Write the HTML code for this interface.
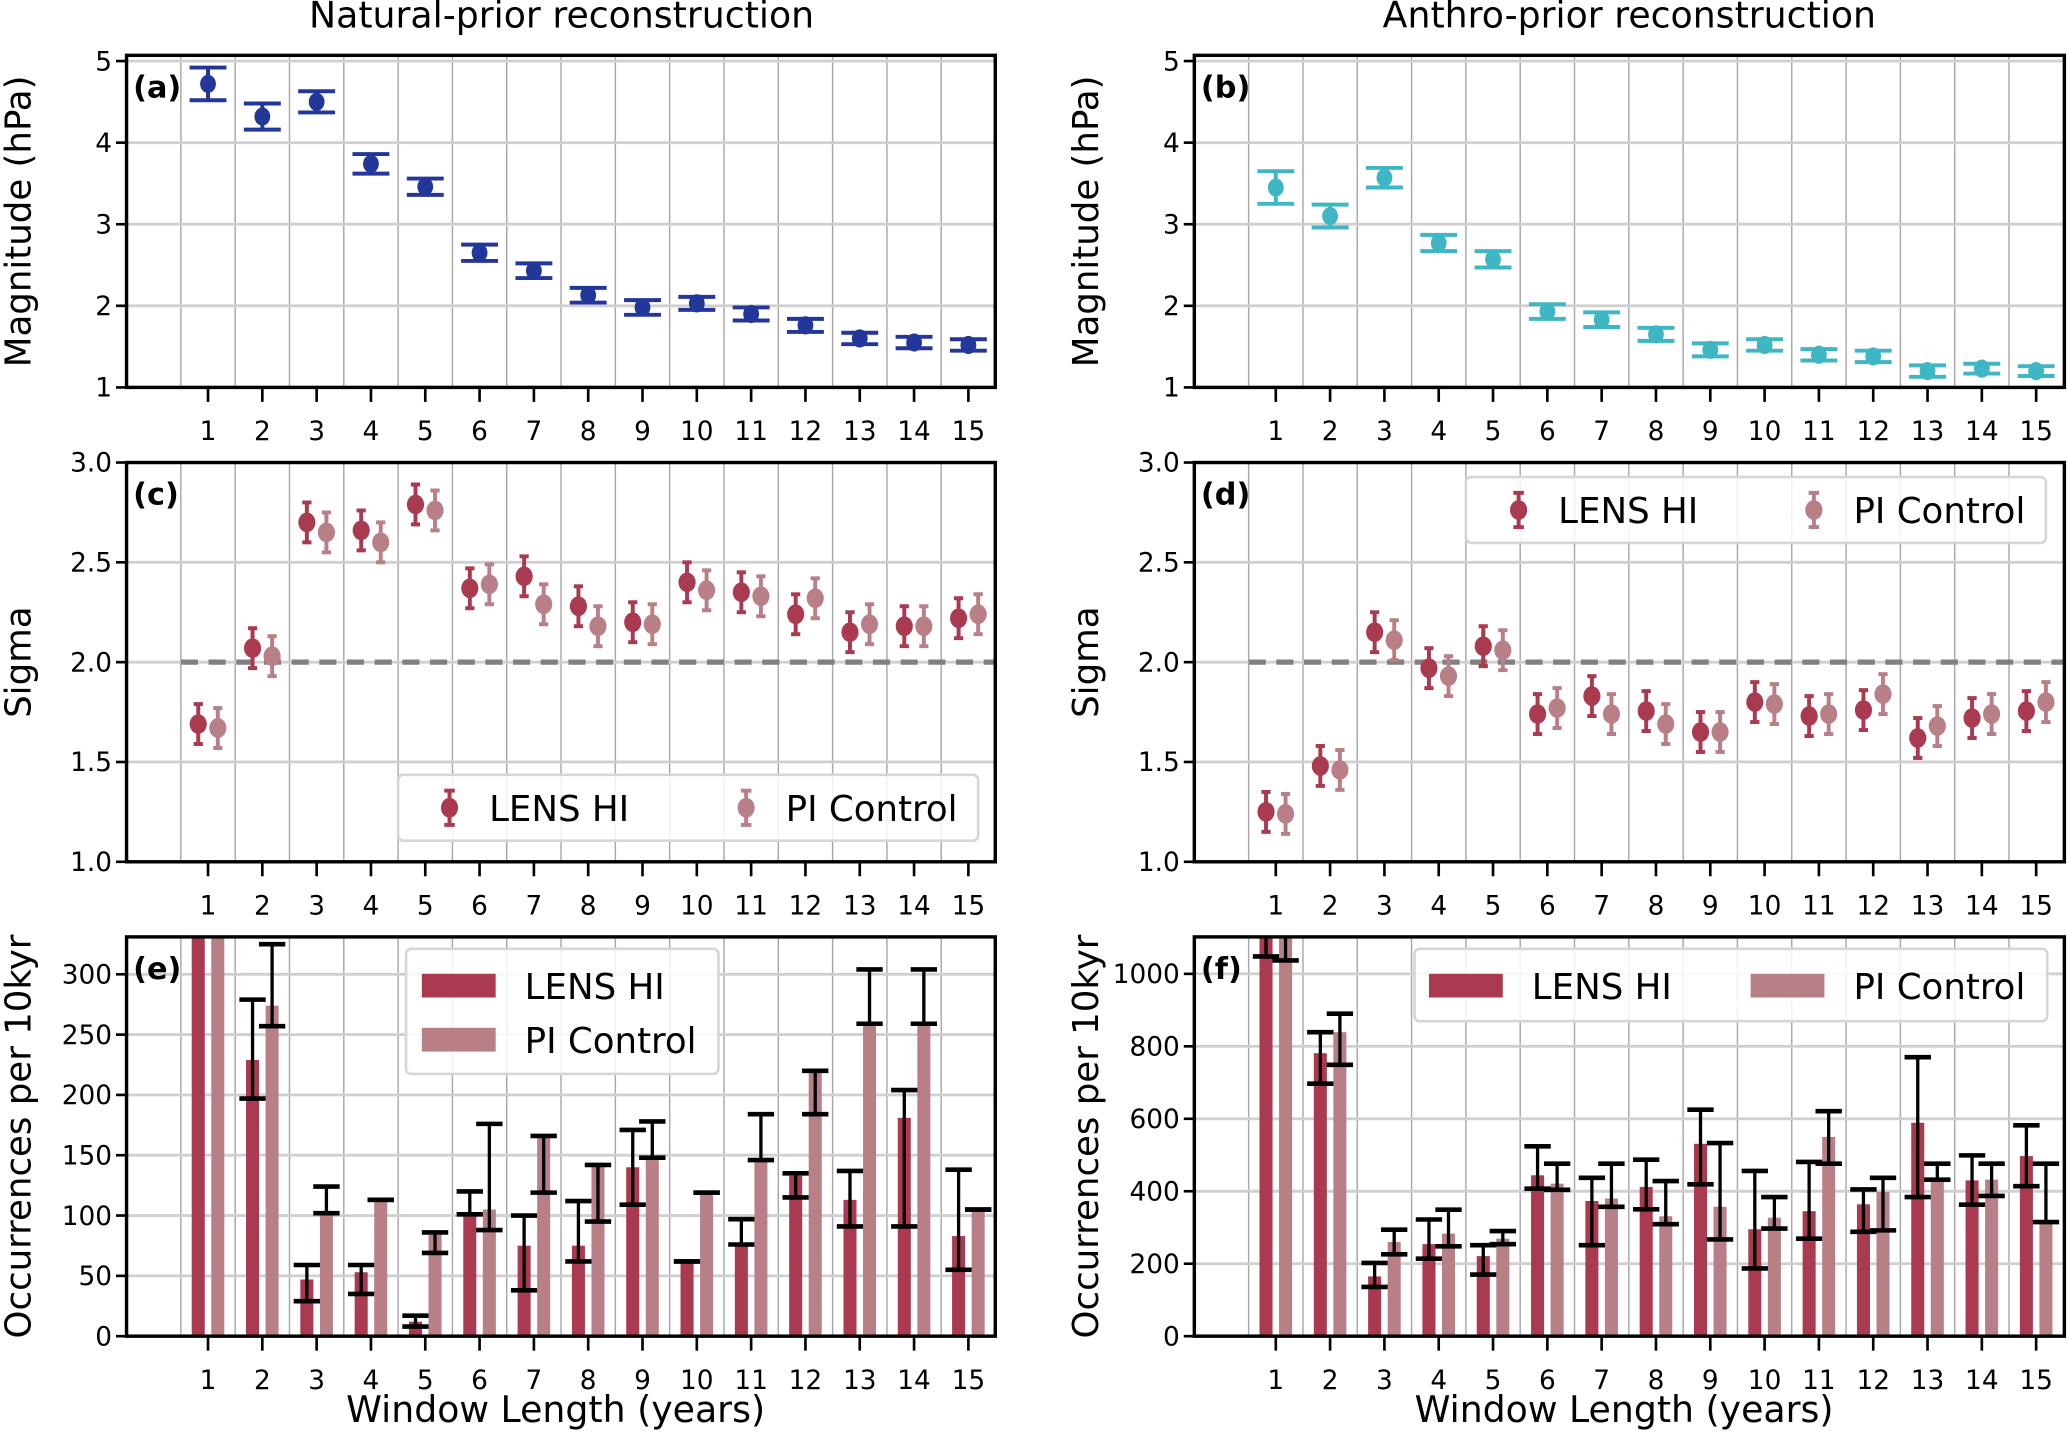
<!DOCTYPE html>
<html><head><meta charset="utf-8">
<style>
html,body{margin:0;padding:0;background:#fff;}
svg{display:block;font-family:"DejaVu Sans","Liberation Sans",sans-serif;}
</style></head>
<body>
<svg id="fig" width="2067" height="1435" viewBox="0 0 1568 1089" preserveAspectRatio="none" xmlns="http://www.w3.org/2000/svg">
<text x="426" y="21" font-size="27.5" text-anchor="middle">Natural-prior reconstruction</text>
<text x="1236" y="21" font-size="27.5" text-anchor="middle">Anthro-prior reconstruction</text>
</svg>
<script>
// ---- data ----
const categories = [1,2,3,4,5,6,7,8,9,10,11,12,13,14,15];
const magNat = [4.72,4.32,4.5,3.74,3.46,2.65,2.43,2.13,1.98,2.03,1.9,1.76,1.6,1.55,1.52];
const magNatErr = [0.2,0.16,0.13,0.12,0.1,0.1,0.09,0.09,0.09,0.08,0.08,0.08,0.07,0.07,0.07];
const magAnt = [3.45,3.1,3.57,2.77,2.57,1.93,1.83,1.65,1.46,1.52,1.4,1.38,1.2,1.23,1.2];
const magAntErr = [0.2,0.14,0.12,0.1,0.1,0.09,0.09,0.08,0.08,0.07,0.07,0.07,0.07,0.06,0.06];
const sigNatLens = [1.69,2.07,2.70,2.66,2.79,2.37,2.43,2.28,2.2,2.4,2.35,2.24,2.15,2.18,2.22];
const sigNatPi = [1.67,2.03,2.65,2.6,2.76,2.39,2.29,2.18,2.19,2.36,2.33,2.32,2.19,2.18,2.24];
const sigAntLens = [1.25,1.48,2.15,1.97,2.08,1.74,1.83,1.755,1.65,1.8,1.73,1.76,1.62,1.72,1.755];
const sigAntPi = [1.24,1.46,2.11,1.93,2.06,1.77,1.74,1.69,1.65,1.79,1.74,1.84,1.68,1.74,1.8];
const sigErr = 0.1;
const occNatLens = [400,229,47,53,12,100,75,75,140,62,75,133,113,181,83];
const occNatLensLo = [345,197,29,35,8,101,38,62,109,62,76,115,91,91,55];
const occNatLensHi = [440,279,59,59,17,120,100,112,171,62,97,135,137,204,138];
const occNatPi = [400,274,102,113,84,105,166,142,146,120,146,220,259,259,105];
const occNatPiLo = [345,257,102,113,69,88,119,95,148,119,146,184,259,259,105];
const occNatPiHi = [440,325,124,113,86,176,166,142,178,119,184,220,304,304,105];
const occAntLens = [1150,781,165,254,221,444,373,412,531,295,345,364,589,430,497];
const occAntLensLo = [1048,697,136,214,170,407,251,350,419,187,269,288,384,363,414];
const occAntLensHi = [1250,839,202,322,251,524,437,487,625,456,481,405,770,499,582];
const occAntPi = [1140,839,260,283,269,421,380,331,357,327,550,398,435,432,315];
const occAntPiLo = [1037,749,226,248,254,404,357,309,267,297,476,292,432,387,315];
const occAntPiHi = [1240,890,294,349,290,476,476,428,533,384,621,437,476,476,476];
const magTicks = [1,2,3,4,5];
const sigTicks = [1.0,1.5,2.0,2.5,3.0];
const occNatTicks = [0,50,100,150,200,250,300];
const occAntTicks = [0,200,400,600,800,1000];

// ---- drawing ----
const NS = "http://www.w3.org/2000/svg";
const svg = document.getElementById('fig');
const C_NAVY = "#23379a", C_TEAL = "#3fb6c4", C_LENS = "#a93a4f", C_PI = "#b88086";
function mk(tag, attrs, parent) {
  const e = document.createElementNS(NS, tag);
  for (const k in attrs) e.setAttribute(k, attrs[k]);
  (parent || svg).appendChild(e);
  return e;
}
function panel(name, L, R, T, B, ymin, ymax, ticks, fmt, letter, ylabel, xlabel) {
  const g = mk('g', {});
  
  
  const sx = v => L + (v + 0.5) * 41.2;
  const sy = v => B - (v - ymin) / (ymax - ymin) * (B - T);
  const clip = mk('clipPath', {id: 'clip-' + name}, g);
  mk('rect', {x: L, y: T, width: R - L, height: B - T}, clip);
  const inner = mk('g', {'clip-path': 'url(#clip-' + name + ')'}, g);
  for (let i = 0; i < 15; i++) {
    const vx = sx(i + 0.5);
    const gl = mk('line', {x1: vx, x2: vx, y1: T, y2: B, stroke: '#a8a8a8', 'stroke-width': 1.1}, inner);
    
    
  }
  ticks.forEach(t => {
    const y = sy(t);
    const hl = mk('line', {x1: L, x2: R, y1: y, y2: y, stroke: '#d0d0d0', 'stroke-width': 2.2}, inner);
    
    
    const tk = mk('line', {x1: L - 8, x2: L, y1: y, y2: y, stroke: '#000', 'stroke-width': 2}, g);
    
    
    const tl = mk('text', {x: L - 11, y: y + 7, 'font-size': 20, 'text-anchor': 'end'}, g);
    tl.textContent = fmt(t);
    
    
  });
  categories.forEach(c => {
    const x = sx(c);
    const tk = mk('line', {x1: x, x2: x, y1: B, y2: B + 11, stroke: '#000', 'stroke-width': 2}, g);
    
    
    const tl = mk('text', {x: x, y: B + 40, 'font-size': 20, 'text-anchor': 'middle'}, g);
    tl.textContent = c;
    
    
  });
  const fr = mk('rect', {x: L, y: T, width: R - L, height: B - T, fill: 'none', stroke: '#000', 'stroke-width': 2.6}, g);
  
  
  const lt = mk('text', {x: L + 5, y: T + 32, 'font-size': 23, 'font-weight': 'bold'}, g);
  lt.textContent = letter;
  
  
  const yl = mk('text', {x: 0, y: 0, 'font-size': 27, 'text-anchor': 'middle', transform: 'translate(' + (L - 73) + ',' + ((T + B) / 2) + ') rotate(-90)'}, g);
  yl.textContent = ylabel;
  
  
  if (xlabel) {
    const xl = mk('text', {x: (L + R) / 2 - 4, y: B + 65, 'font-size': 27.5, 'text-anchor': 'middle'}, g);
    xl.textContent = xlabel;
    
    
  }
  return {g: inner, outer: g, sx, sy, T, B, L, R};
}
function errPoint(p, x, v, e, color, cap, r, lw) {
  const y1 = p.sy(v - e), y2 = p.sy(v + e), y = p.sy(v);
  const eg = mk('g', {}, p.g);
  
  
  mk('line', {x1: x, x2: x, y1: y1, y2: y2, stroke: color, 'stroke-width': lw}, eg);
  mk('line', {x1: x - cap, x2: x + cap, y1: y1, y2: y1, stroke: color, 'stroke-width': 3}, eg);
  mk('line', {x1: x - cap, x2: x + cap, y1: y2, y2: y2, stroke: color, 'stroke-width': 3}, eg);
  mk('ellipse', {cx: x, cy: y, rx: r, ry: r * 1.15, fill: color}, eg);
}
function bar(p, x, v, lo, hi, color) {
  const w = 0.24 * 41.2;
  const b = mk('rect', {x: x - w / 2, y: p.sy(v), width: w, height: p.B - p.sy(v), fill: color}, p.g);
  
  
  const eg = mk('g', {}, p.g);
  
  
  const ylo = p.sy(lo), yhi = p.sy(hi);
  mk('line', {x1: x, x2: x, y1: ylo, y2: yhi, stroke: '#000', 'stroke-width': 2.5}, eg);
  mk('line', {x1: x - 10, x2: x + 10, y1: ylo, y2: ylo, stroke: '#000', 'stroke-width': 3.5}, eg);
  mk('line', {x1: x - 10, x2: x + 10, y1: yhi, y2: yhi, stroke: '#000', 'stroke-width': 3.5}, eg);
}
function dashed(p) {
  const d = mk('line', {x1: p.sx(0.5), x2: p.sx(15.5), y1: p.sy(2), y2: p.sy(2), stroke: '#808080', 'stroke-width': 4, 'stroke-dasharray': '13,8'}, p.g);
  
  
}
function legendBox(x, y, w, h) {
  const lg = mk('g', {});
  
  
  mk('rect', {x, y, width: w, height: h, rx: 4, fill: 'rgba(255,255,255,0.85)', stroke: '#d6d6d6', 'stroke-width': 2}, lg);
  return lg;
}
function legendPoint(lg, x, y, color, label) {
  const e = mk('g', {}, lg);
  
  
  mk('line', {x1: x, x2: x, y1: y - 13, y2: y + 13, stroke: color, 'stroke-width': 3}, e);
  mk('line', {x1: x - 4, x2: x + 4, y1: y - 13, y2: y - 13, stroke: color, 'stroke-width': 3}, e);
  mk('line', {x1: x - 4, x2: x + 4, y1: y + 13, y2: y + 13, stroke: color, 'stroke-width': 3}, e);
  mk('ellipse', {cx: x, cy: y, rx: 6.5, ry: 7.5, fill: color}, e);
  const t = mk('text', {x: x + 30, y: y + 10, 'font-size': 27}, e);
  t.textContent = label;
}
function legendBar(lg, x, y, color, label) {
  const e = mk('g', {}, lg);
  
  
  mk('rect', {x, y: y - 9, width: 56, height: 18, fill: color}, e);
  const t = mk('text', {x: x + 78, y: y + 10, 'font-size': 27}, e);
  t.textContent = label;
}
const fmt0 = t => String(t), fmt1 = t => t.toFixed(1);
const LX = 96, LR = 755, RX = 906, RR = 1566;
// (a)
let p = panel('panel-a', LX, LR, 42, 294, 1, 5.07, magTicks, fmt0, '(a)', 'Magnitude (hPa)');
categories.forEach((c, i) => errPoint(p, p.sx(c), magNat[i], magNatErr[i], C_NAVY, 14, 6, 3));
// (b)
p = panel('panel-b', RX, RR, 42, 294, 1, 5.07, magTicks, fmt0, '(b)', 'Magnitude (hPa)');
categories.forEach((c, i) => errPoint(p, p.sx(c), magAnt[i], magAntErr[i], C_TEAL, 14, 6, 3));
// (c)
p = panel('panel-c', LX, LR, 351, 654, 1, 3, sigTicks, fmt1, '(c)', 'Sigma');
dashed(p);
categories.forEach((c, i) => {
  errPoint(p, p.sx(c - 0.18), sigNatLens[i], sigErr, C_LENS, 3.5, 6.5, 3);
  errPoint(p, p.sx(c + 0.18), sigNatPi[i], sigErr, C_PI, 3.5, 6.5, 3);
});
let lg = legendBox(302, 588, 440, 50);
legendPoint(lg, 341, 613, C_LENS, 'LENS HI');
legendPoint(lg, 566, 613, C_PI, 'PI Control');
// (d)
p = panel('panel-d', RX, RR, 351, 654, 1, 3, sigTicks, fmt1, '(d)', 'Sigma');
dashed(p);
categories.forEach((c, i) => {
  errPoint(p, p.sx(c - 0.18), sigAntLens[i], sigErr, C_LENS, 3.5, 6.5, 3);
  errPoint(p, p.sx(c + 0.18), sigAntPi[i], sigErr, C_PI, 3.5, 6.5, 3);
});
lg = legendBox(1112, 362, 440, 50);
legendPoint(lg, 1152, 387, C_LENS, 'LENS HI');
legendPoint(lg, 1376, 387, C_PI, 'PI Control');
// (e)
p = panel('panel-e', LX, LR, 711, 1014, 0, 331, occNatTicks, fmt0, '(e)', 'Occurrences per 10kyr', 'Window Length (years)');
categories.forEach((c, i) => {
  bar(p, p.sx(c - 0.18), occNatLens[i], occNatLensLo[i], occNatLensHi[i], C_LENS);
  bar(p, p.sx(c + 0.18), occNatPi[i], occNatPiLo[i], occNatPiHi[i], C_PI);
});
lg = legendBox(308, 720, 237, 95);
legendBar(lg, 320, 748, C_LENS, 'LENS HI');
legendBar(lg, 320, 789, C_PI, 'PI Control');
// (f)
p = panel('panel-f', RX, RR, 711, 1014, 0, 1102, occAntTicks, fmt0, '(f)', 'Occurrences per 10kyr', 'Window Length (years)');
categories.forEach((c, i) => {
  bar(p, p.sx(c - 0.18), occAntLens[i], occAntLensLo[i], occAntLensHi[i], C_LENS);
  bar(p, p.sx(c + 0.18), occAntPi[i], occAntPiLo[i], occAntPiHi[i], C_PI);
});
lg = legendBox(1073, 720, 480, 55);
legendBar(lg, 1084, 748, C_LENS, 'LENS HI');
legendBar(lg, 1328, 748, C_PI, 'PI Control');
</script>
</body></html>
